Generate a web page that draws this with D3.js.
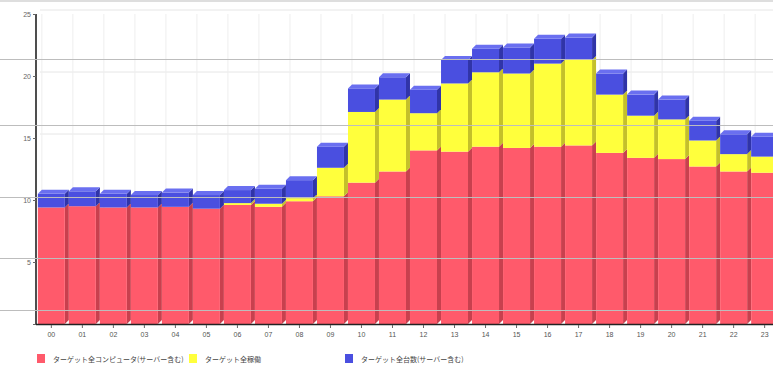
<!DOCTYPE html>
<html>
<head>
<meta charset="utf-8">
<script src="https://cdn.jsdelivr.net/npm/d3@7"></script>
<style>
  html, body { margin: 0; padding: 0; background: #ffffff; }
  svg { display: block; font-family: "Noto Sans CJK JP", "DejaVu Sans", sans-serif; }
</style>
</head>
<body>
<svg id="chart" width="773" height="368"></svg>
<script>
// Hours of the day
const categories = ["00","01","02","03","04","05","06","07","08","09","10","11",
                    "12","13","14","15","16","17","18","19","20","21","22","23"];

// Series names (legend)
const seriesNames = [
  "ターゲット全コンピュータ(サーバー含む)",
  "ターゲット全稼働",
  "ターゲット全台数(サーバー含む)"
];

// Stacked segment values per hour
const redValues = [9.4, 9.5, 9.4, 9.4, 9.45, 9.3, 9.6, 9.45, 9.9, 10.3, 11.4, 12.3,
                   14.0, 13.9, 14.3, 14.2, 14.3, 14.4, 13.8, 13.4, 13.3, 12.7, 12.3, 12.2];
const yellowValues = [0, 0, 0, 0, 0, 0, 0.15, 0.25, 0.25, 2.3, 5.7, 5.8,
                      3.0, 5.5, 6.0, 6.0, 6.7, 6.9, 4.7, 3.4, 3.2, 2.1, 1.4, 1.3];
const blueValues = [1.1, 1.2, 1.1, 1.0, 1.15, 1.1, 1.05, 1.2, 1.45, 1.7, 1.9, 1.8,
                    1.9, 1.9, 1.9, 2.1, 2.0, 1.8, 1.7, 1.7, 1.6, 1.6, 1.6, 1.6];

const yTicks = [0, 5, 10, 15, 20, 25];

const colors = [
  { front: "#ff5a6b", side: "#c8404e", top: "#ff7a88" },
  { front: "#ffff3c", side: "#c4c02a", top: "#ffff8a" },
  { front: "#4a4fe0", side: "#3034a8", top: "#6a6ff0" }
];

const svg = d3.select("#chart");
const depth = 4;

const x = d3.scaleBand().domain(categories).range([36, 780]).paddingInner(0.13).paddingOuter(0.06);
const y = d3.scaleLinear().domain([0, 25]).range([324, 14]);

// back wall grid
const grid = svg.append("g");
grid.selectAll("line.h").data(yTicks.filter(d => d > 0)).join("line")
  .attr("x1", 36 + depth).attr("x2", 773)
  .attr("y1", d => y(d) - depth).attr("y2", d => y(d) - depth)
  .attr("stroke", "#e6e6e6").attr("stroke-width", 1);
grid.selectAll("line.v").data(categories).join("line")
  .attr("x1", d => x(d) + depth).attr("x2", d => x(d) + depth)
  .attr("y1", 14).attr("y2", 324 - depth)
  .attr("stroke", "#eeeeee").attr("stroke-width", 1);

// stacked data
const stackData = categories.map((c, i) => ({ cat: c, s0: redValues[i], s1: yellowValues[i], s2: blueValues[i] }));
const stack = d3.stack().keys(["s0", "s1", "s2"]);
const layers = stack(stackData);

const bw = x.bandwidth();
const barsG = svg.append("g");

layers.forEach((layer, li) => {
  const col = colors[li];
  const g = barsG.append("g");
  // right side face
  g.selectAll("path.side").data(layer.filter(d => d[1] - d[0] > 0)).join("path")
    .attr("d", d => {
      const x0 = x(d.data.cat) + bw;
      const yt = y(d[1]), yb = y(d[0]);
      return `M${x0},${yt}L${x0 + depth},${yt - depth}L${x0 + depth},${yb - depth}L${x0},${yb}Z`;
    })
    .attr("fill", col.side);
  // front face
  g.selectAll("rect.front").data(layer.filter(d => d[1] - d[0] > 0)).join("rect")
    .attr("x", d => x(d.data.cat))
    .attr("y", d => y(d[1]))
    .attr("width", bw)
    .attr("height", d => y(d[0]) - y(d[1]))
    .attr("fill", col.front);
});

// top face on the highest segment of each bar
const topLayer = layers[2];
barsG.append("g").selectAll("path").data(topLayer).join("path")
  .attr("d", d => {
    const x0 = x(d.data.cat), yt = y(d[1]);
    return `M${x0},${yt}L${x0 + depth},${yt - depth}L${x0 + bw + depth},${yt - depth}L${x0 + bw},${yt}Z`;
  })
  .attr("fill", colors[2].top);

// axes
const axisColor = "#222";
svg.append("line").attr("x1", 36).attr("x2", 36).attr("y1", 14).attr("y2", 325)
  .attr("stroke", axisColor).attr("stroke-width", 1.6);
svg.append("line").attr("x1", 36).attr("x2", 773).attr("y1", 324.5).attr("y2", 324.5)
  .attr("stroke", axisColor).attr("stroke-width", 1.6);

const yAxis = d3.axisLeft(y).tickValues(yTicks).tickSize(3).tickPadding(2);
const yG = svg.append("g").attr("transform", "translate(36,0)").call(yAxis);
yG.select(".domain").remove();
yG.selectAll("line").attr("stroke", "#666");
yG.selectAll("text").attr("fill", "#666").attr("font-size", 7);
yG.selectAll(".tick").filter(d => d === 0).select("text").remove();

const xAxis = d3.axisBottom(x).tickSize(3).tickPadding(4);
const xG = svg.append("g").attr("transform", "translate(0,325)").call(xAxis);
xG.select(".domain").remove();
xG.selectAll("line").attr("stroke", "#666");
xG.selectAll("text").attr("fill", "#555").attr("font-size", 7);

// horizontal scan guides across the frame
const guides = [1, 59.5, 125.5, 197.5, 258.5, 310.5];
svg.append("g").selectAll("line").data(guides).join("line")
  .attr("x1", 0).attr("x2", 773)
  .attr("y1", d => d).attr("y2", d => d)
  .attr("stroke", "#bdbdbd").attr("stroke-width", 1);

// legend
const legendX = [37, 189, 345];
const lg = svg.append("g");
seriesNames.forEach((name, i) => {
  const item = lg.append("g").attr("transform", `translate(${legendX[i]},354)`);
  item.append("rect").attr("width", 8).attr("height", 9).attr("fill", colors[i].front);
  item.append("text").attr("x", 16).attr("y", 7.5)
    .attr("font-size", 7).attr("fill", "#444").text(name);
});
</script>
</body>
</html>
